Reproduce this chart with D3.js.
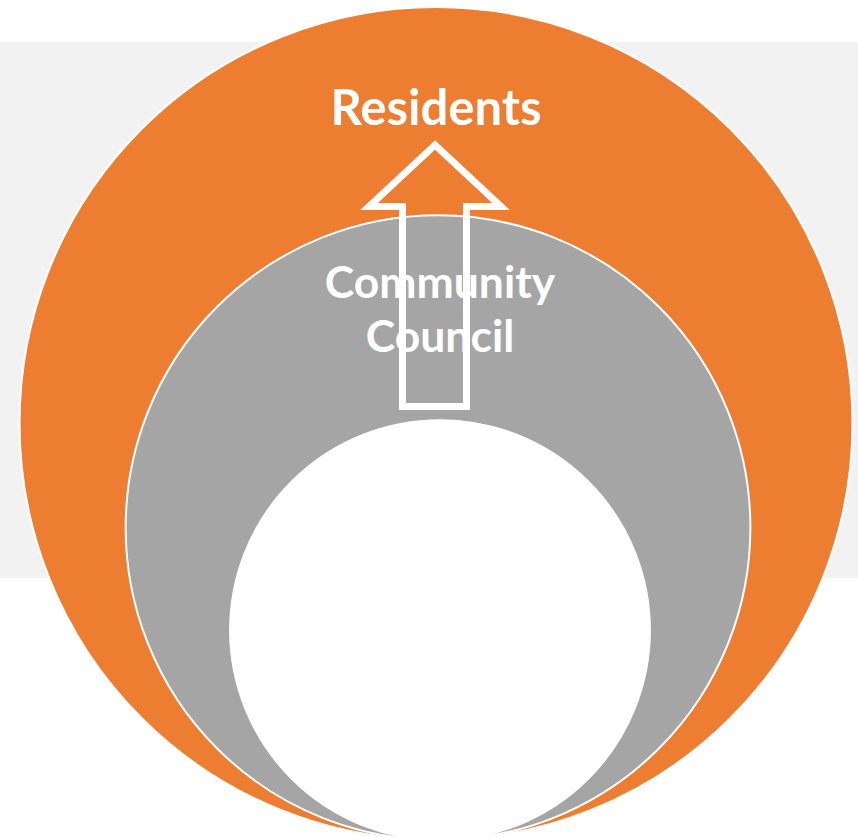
<!DOCTYPE html>
<html>
<head>
<meta charset="utf-8">
<script src="https://cdn.jsdelivr.net/npm/d3@7/dist/d3.min.js"></script>
<style>
html,body{margin:0;padding:0;background:#fff;overflow:hidden;}
svg{display:block;}
</style>
</head>
<body>
<script>
// Data
const levels = ["Residents", "Community Council", ""];
const levelLines = [["Residents"], ["Community", "Council"], []];
const levelSizes = [100, 75, 50.4];
const levelColors = ["#ED7D31", "#A5A5A5", "#FFFFFF"];

const W = 858, H = 837;
const svg = d3.select("body").append("svg").attr("width", W).attr("height", H);

// background band
svg.append("rect").attr("x", 0).attr("y", 42).attr("width", W).attr("height", 536).attr("fill", "#F2F2F2");

const rScale = d3.scaleLinear().domain([0, 100]).range([0, 416.5]);
const bottomY = 840;
const cxScale = d3.scaleLinear().domain([50.4, 100]).range([440, 436]);

const g = svg.append("g");
g.selectAll("circle").data(levels).join("circle")
  .attr("cx", (d, i) => cxScale(levelSizes[i]))
  .attr("cy", (d, i) => bottomY - rScale(levelSizes[i]))
  .attr("r", (d, i) => rScale(levelSizes[i]))
  .attr("fill", (d, i) => levelColors[i])
  .attr("stroke", "#fff")
  .attr("stroke-width", 2);

// arrow (outline)
const arrowPts = [[435,145],[369,206.5],[402.5,206.5],[402.5,406.5],[466.5,406.5],[466.5,206.5],[501,206.5]];
svg.append("path")
  .attr("d", d3.line()(arrowPts) + "Z")
  .attr("fill", "none")
  .attr("stroke", "#fff")
  .attr("stroke-width", 7)
  .attr("stroke-linejoin", "miter");

// labels
const labelPos = [{x: 436, y: 125, size: 49}, {x: 440, y: 298, size: 44.5}];
levelLines.forEach((lines, i) => {
  if (!lines.length) return;
  const p = labelPos[i];
  const t = svg.append("text")
    .attr("text-anchor", "middle")
    .attr("font-family", "Lato, 'Open Sans', sans-serif")
    .attr("font-weight", "bold")
    .attr("font-size", p.size)
    .attr("fill", "#fff");
  lines.forEach((ln, j) => {
    t.append("tspan").attr("x", p.x).attr("y", p.y + j * 54).text(ln);
  });
});
</script>
</body>
</html>
